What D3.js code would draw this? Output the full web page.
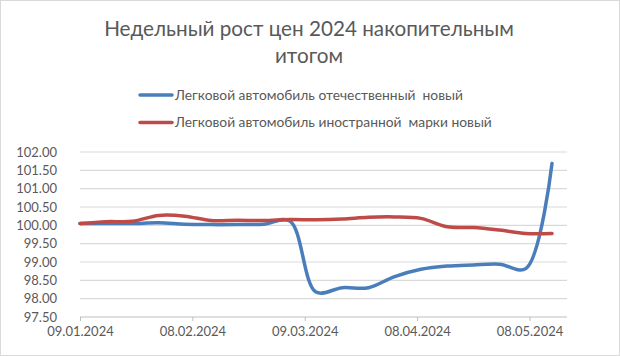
<!DOCTYPE html>
<html><head><meta charset="utf-8">
<script src="https://cdn.jsdelivr.net/npm/d3@7"></script>
<style>body{margin:0;background:#fff}svg{display:block}</style>
</head><body><svg id="c" width="620" height="356"></svg>
<script>
const dates = ["09.01.2024","16.01.2024","23.01.2024","30.01.2024","06.02.2024","13.02.2024","20.02.2024","27.02.2024","05.03.2024","12.03.2024","19.03.2024","26.03.2024","02.04.2024","09.04.2024","16.04.2024","23.04.2024","30.04.2024","07.05.2024","14.05.2024"];
const domestic = [100.05,100.05,100.05,100.07,100.03,100.02,100.02,100.03,100.12,98.18,98.30,98.30,98.60,98.80,98.89,98.92,98.94,98.82,101.69];
const foreign = [100.05,100.10,100.11,100.27,100.25,100.13,100.14,100.13,100.16,100.15,100.17,100.22,100.23,100.19,99.96,99.94,99.87,99.78,99.78];
const seriesNames = ["Легковой автомобиль отечественный  новый","Легковой автомобиль иностранной  марки новый"];
const colors = ["#4a7ebb","#be4b48"];
const yTicks = [97.5,98,98.5,99,99.5,100,100.5,101,101.5,102];
const xTickLabels = ["09.01.2024","08.02.2024","09.03.2024","08.04.2024","08.05.2024"];
const title = ["Недельный рост цен 2024 накопительным","итогом"];

const parse = d3.timeParse("%d.%m.%Y");
const fmt = d3.timeFormat("%d.%m.%Y");
const svg = d3.select("#c");
const font = "Lato, 'Open Sans', sans-serif";

svg.append("rect").attr("x",0.5).attr("y",0.5).attr("width",619).attr("height",355)
  .attr("fill","#fff").attr("stroke","#d9d9d9");

const x0 = parse(dates[0]);
const x = d3.scaleTime().domain([x0, d3.timeDay.offset(x0,130)]).range([80,567]);
const y = d3.scaleLinear().domain([97.5,102]).range([317,152]);

// grid
svg.append("g").selectAll("line").data(yTicks).join("line")
  .attr("x1",80).attr("x2",567).attr("y1",d=>y(d)).attr("y2",d=>y(d))
  .attr("stroke",d=>d===97.5?"#bfbfbf":"#d9d9d9").attr("stroke-width",1.2);

// y labels
svg.append("g").selectAll("text").data(yTicks).join("text")
  .attr("x",57).attr("y",d=>y(d)+4.5).attr("text-anchor","end")
  .attr("font-family",font).attr("font-size",13).attr("fill","#595959")
  .text(d=>d.toFixed(2));

// x axis
const xTicks = xTickLabels.map(parse);
const xa = svg.append("g").attr("transform","translate(0,317)")
  .call(d3.axisBottom(x).tickValues(xTicks).tickFormat(fmt).tickSize(4).tickSizeOuter(0));
xa.select(".domain").remove();
xa.selectAll("line").attr("stroke","#bfbfbf");
xa.selectAll("text").attr("font-family",font).attr("font-size",13).attr("fill","#595959").attr("dy","0.95em");

// lines
const line = d3.line().x((d,i)=>x(parse(dates[i]))).y(d=>y(d)).curve(d3.curveCatmullRom.alpha(0.5));
[domestic, foreign].forEach((s,k)=>{
  svg.append("path").datum(s).attr("d",line).attr("fill","none")
    .attr("stroke",colors[k]).attr("stroke-width",3.5).attr("stroke-linecap","round").attr("stroke-linejoin","round");
});

// title
svg.append("g").selectAll("text").data(title).join("text")
  .attr("x",309).attr("y",(d,i)=>36+i*27).attr("text-anchor","middle")
  .attr("font-family",font).attr("font-size",20.7).attr("fill","#595959").text(d=>d);

// legend
seriesNames.forEach((n,k)=>{
  const yy = 95 + k*27.5;
  svg.append("line").attr("x1",140).attr("x2",172).attr("y1",yy).attr("y2",yy)
    .attr("stroke",colors[k]).attr("stroke-width",3.5).attr("stroke-linecap","round");
  svg.append("text").attr("x",175).attr("y",yy+4.8).attr("font-family",font)
    .attr("font-size",13.8).attr("fill","#595959").attr("xml:space","preserve").text(n);
});
</script></body></html>
